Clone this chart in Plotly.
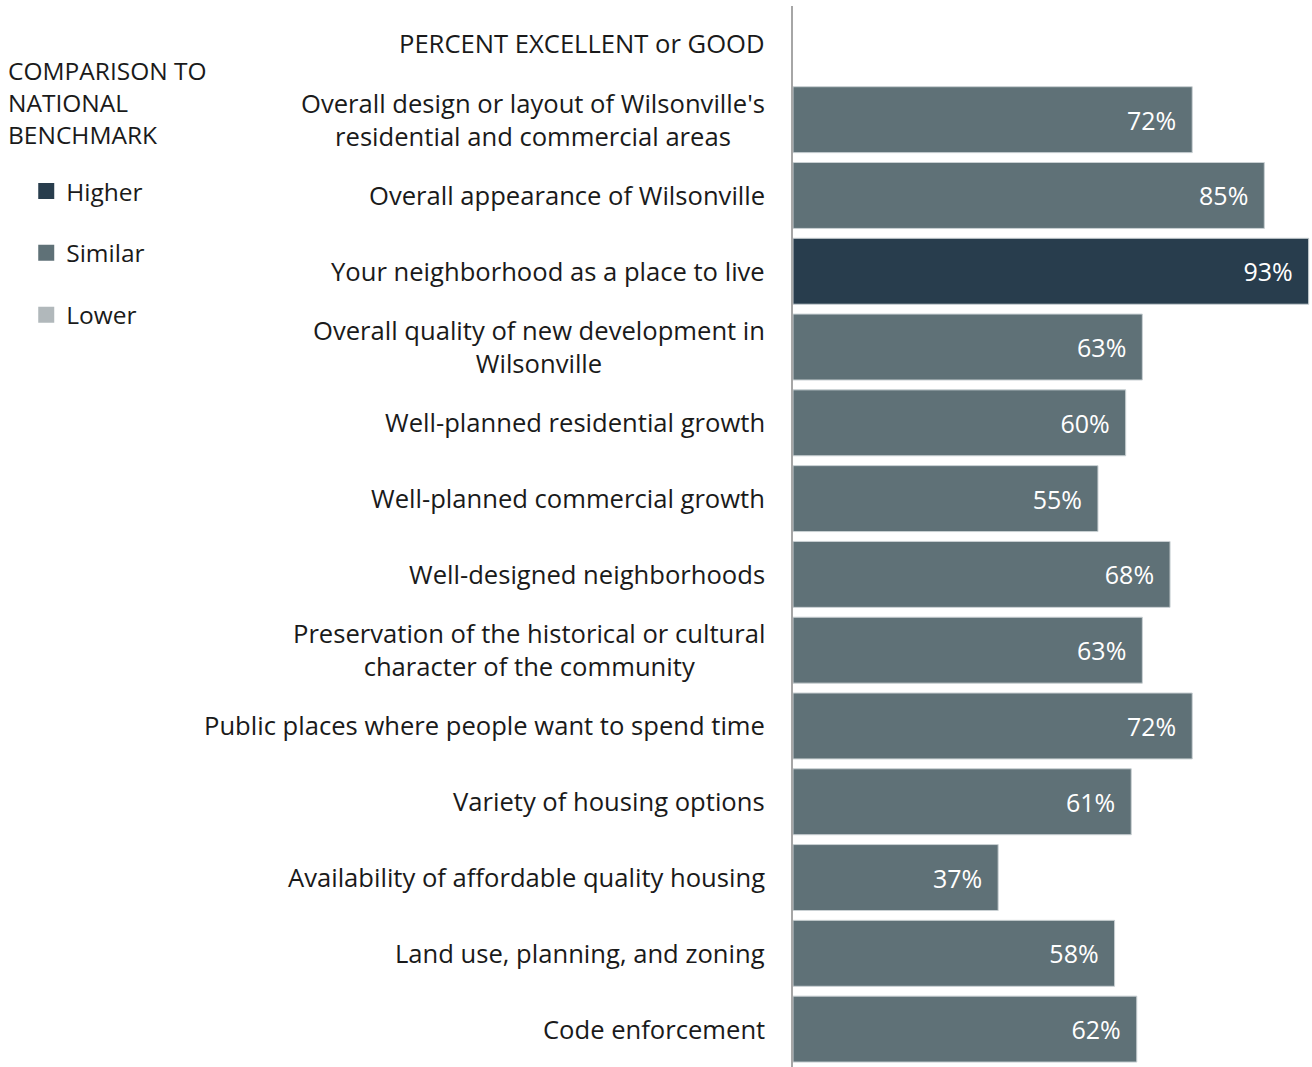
import plotly.graph_objects as go

# rows, top to bottom (first row is the column header, no bar)
labels = [
    "PERCENT EXCELLENT or GOOD",
    "Overall design or layout of Wilsonville's<br>residential and commercial areas",
    "Overall appearance of Wilsonville",
    "Your neighborhood as a place to live",
    "Overall quality of new development in<br>Wilsonville",
    "Well-planned residential growth",
    "Well-planned commercial growth",
    "Well-designed neighborhoods",
    "Preservation of the historical or cultural<br>character of the community",
    "Public places where people want to spend time",
    "Variety of housing options",
    "Availability of affordable quality housing",
    "Land use, planning, and zoning",
    "Code enforcement",
]
values = [None, 72, 85, 93, 63, 60, 55, 68, 63, 72, 61, 37, 58, 62]
benchmark = [None, "Similar", "Similar", "Higher", "Similar", "Similar", "Similar",
             "Similar", "Similar", "Similar", "Similar", "Similar", "Similar", "Similar"]

groups = ["Higher", "Similar", "Lower"]
colors = {"Higher": "#283d4d", "Similar": "#5f7177", "Lower": "#b1b8bb"}

FONT = "'Open Sans', Lato, sans-serif"
cats = [str(i) for i in range(len(labels))]

fig = go.Figure()
for g in groups:
    xs = [v if b == g else None for v, b in zip(values, benchmark)]
    txt = [f"{v}%\u00a0\u00a0" if (b == g and v is not None) else "" for v, b in zip(values, benchmark)]
    fig.add_trace(go.Bar(
        x=xs, y=cats, orientation="h", name=g, showlegend=False,
        marker=dict(color=colors[g], line=dict(color="#c9d0d3", width=1)),
        text=txt, textposition="inside", insidetextanchor="end",
        textfont=dict(color="white", size=25, family=FONT),
        hoverinfo="skip",
    ))
    # legend entry with a bigger square swatch
    fig.add_trace(go.Scatter(
        x=[None], y=[None], mode="markers", name=g, legendgroup=g,
        marker=dict(symbol="square", size=16, color=colors[g]),
    ))

# category labels, centred lines, right edge next to the axis
for c, lab in zip(cats, labels):
    fig.add_annotation(
        x=0, xref="paper", y=c, yref="y", text=lab, showarrow=False,
        xanchor="right", yanchor="middle", align="center", xshift=-26,
        font=dict(size=25.6, color="#1a1a1a", family=FONT),
    )

fig.add_annotation(
    x=-1.5165, xref="paper", y=0.957, yref="paper", yanchor="top", xanchor="left",
    text="COMPARISON TO<br>NATIONAL<br>BENCHMARK", align="left", showarrow=False,
    font=dict(size=24.5, color="#1a1a1a", family=FONT),
)

fig.update_layout(
    width=1312, height=1067,
    margin=dict(l=793, r=0, t=6, b=0),
    plot_bgcolor="white", paper_bgcolor="white",
    barmode="overlay", bargap=0.13,
    showlegend=True,
    legend=dict(
        xref="container", yref="container", x=0.02, y=0.842,
        xanchor="left", yanchor="top", traceorder="grouped",
        tracegroupgap=27, font=dict(size=24.5, color="#1a1a1a", family=FONT),
        itemwidth=30, bgcolor="rgba(0,0,0,0)",
    ),
    uniformtext=dict(mode="show", minsize=25),
)
fig.update_xaxes(range=[0, 93.6], visible=False, fixedrange=True)
fig.update_yaxes(autorange="reversed", showticklabels=False, showgrid=False,
                 showline=True, linecolor="#a6a6a6", linewidth=2, ticks="",
                 zeroline=False, fixedrange=True)

fig.write_html("out.html", config={"displayModeBar": False},
               post_script="document.body.style.margin='0';")
